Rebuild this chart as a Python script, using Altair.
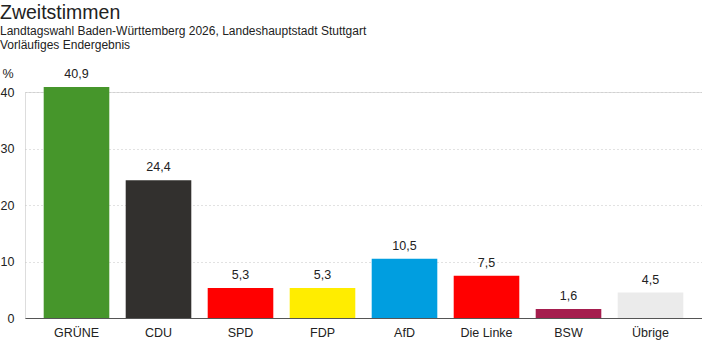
import altair as alt
import pandas as pd

parties = ["GRÜNE", "CDU", "SPD", "FDP", "AfD", "Die Linke", "BSW", "Übrige"]
values = [40.9, 24.4, 5.3, 5.3, 10.5, 7.5, 1.6, 4.5]
colors = ["#46962b", "#32302e", "#ff0000", "#ffed00", "#009ee0", "#ff0000", "#a51d4e", "#ebebeb"]
y_ticks = [0, 10, 20, 30, 40]

df = pd.DataFrame({
    "party": parties,
    "value": values,
    "label": [f"{v:.1f}".replace(".", ",") for v in values],
})

FONT = "Liberation Sans"

base = alt.Chart(df).encode(
    x=alt.X("party:N", sort=parties,
            scale=alt.Scale(paddingInner=0.2, paddingOuter=0.228),
            axis=alt.Axis(title=None, labelAngle=0, labelFontSize=12.5, labelColor="#222",
                          labelFont=FONT, labelPadding=8, ticks=False,
                          domainColor="#555", domainWidth=1)),
)

bars = base.mark_bar().encode(
    y=alt.Y("value:Q", scale=alt.Scale(domain=[0, 40], clamp=False, nice=False),
            axis=alt.Axis(values=y_ticks, title="%", titleAngle=0, titleX=-23, titleY=-12,
                          titleAlign="left", titleBaseline="bottom", titleFont=FONT,
                          titleFontSize=12.5, titleFontWeight="normal", titleColor="#222",
                          labelFont=FONT, labelFontSize=12.5, labelColor="#222",
                          labelPadding=11, ticks=False, domain=False,
                          grid=True, gridDash=[1, 3], gridColor="#c4c4c4")),
    color=alt.Color("party:N", scale=alt.Scale(domain=parties, range=colors), legend=None),
)

labels = base.mark_text(dy=-6, baseline="bottom", fontSize=12.5, font=FONT, color="#222").encode(
    y="value:Q", text="label:N"
)

chart = alt.layer(bars, labels).properties(
    width=677, height=226,
    autosize=alt.AutoSizeParams(type="none"),
    padding={"left": 25, "top": 92, "right": 0, "bottom": 34},
    title=alt.TitleParams(
        "Zweitstimmen",
        subtitle=["Landtagswahl Baden-Württemberg 2026, Landeshauptstadt Stuttgart",
                  "Vorläufiges Endergebnis"],
        anchor="start", frame="group", dx=-25, offset=15,
        font=FONT, fontSize=19.5, fontWeight="normal", color="#222",
        subtitleFont=FONT, subtitleFontSize=12, subtitleColor="#222", subtitlePadding=3,
        subtitleLineHeight=14,
    ),
).configure_view(stroke=None).configure(background="white")

chart.save("out.html", embed_options={"renderer": "svg", "actions": False})
